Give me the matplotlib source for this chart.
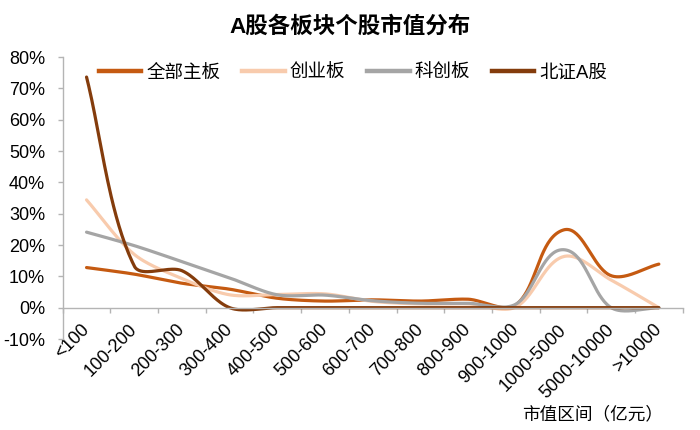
import numpy as np
import matplotlib
matplotlib.use("Agg")
import matplotlib.pyplot as plt
from matplotlib.lines import Line2D
from matplotlib.ticker import FuncFormatter, FixedLocator
from matplotlib.font_manager import FontProperties

plt.rcParams['font.family'] = ['Liberation Sans', 'Noto Sans CJK SC']
plt.rcParams['axes.unicode_minus'] = False

categories = ['<100', '100-200', '200-300', '300-400', '400-500', '500-600', '600-700',
              '700-800', '800-900', '900-1000', '1000-5000', '5000-10000', '>10000']
main_board = [12.8, 10.7, 7.8, 5.9, 3.0, 2.1, 2.5, 2.1, 2.7, 0.9, 24.8, 10.2, 13.9]
gem_board = [34.4, 17.0, 9.3, 4.1, 4.2, 4.4, 2.0, 1.2, 1.2, 0.2, 16.3, 8.8, 0.0]
star_board = [24.1, 19.8, 14.7, 9.5, 4.1, 4.0, 2.2, 1.4, 1.4, 1.1, 18.5, 0.0, 0.0]
bse_board = [73.6, 13.3, 11.8, 0.0, 0.0, 0.0, 0.0, 0.0, 0.0, 0.0, 0.0, 0.0, 0.0]
series_names = ['全部主板', '创业板', '科创板', '北证A股']
series_colors = ['#C55A11', '#F8CBAD', '#A5A5A5', '#843C0C']
y_ticks = [-10, 0, 10, 20, 30, 40, 50, 60, 70, 80]

W, H = 700, 430
fig = plt.figure(figsize=(7, 4.3), dpi=100)
ax = fig.add_axes([62.7 / W, 1 - 339 / H, (682.7 - 62.7) / W, (339 - 57) / H])
ax.set_xlim(-0.5, len(categories) - 0.5)
ax.set_ylim(-10, 80)


def smooth(ax, xs, ys, s=0.3, n=40):
    P = ax.transData.transform(np.column_stack([xs, ys]))
    m = len(P)
    U = []
    for i in range(m):
        if i == 0:
            d = P[1] - P[0]
        elif i == m - 1:
            d = P[-1] - P[-2]
        else:
            d = P[i + 1] - P[i - 1]
        nrm = np.hypot(*d)
        U.append(d / nrm if nrm > 0 else d)
    pts = [P[:1]]
    t = np.linspace(0, 1, n)[1:, None]
    for i in range(m - 1):
        L = np.hypot(*(P[i + 1] - P[i]))
        c1 = P[i] + U[i] * L * s
        c2 = P[i + 1] - U[i + 1] * L * s
        seg = ((1 - t) ** 3) * P[i] + 3 * ((1 - t) ** 2) * t * c1 \
            + 3 * (1 - t) * t ** 2 * c2 + t ** 3 * P[i + 1]
        pts.append(seg)
    pts = np.vstack(pts)
    return ax.transData.inverted().transform(pts)


x = np.arange(len(categories))
all_series = [main_board, gem_board, star_board, bse_board]
for vals, col, name in zip(all_series, series_colors, series_names):
    c = smooth(ax, x, vals)
    ax.plot(c[:, 0], c[:, 1], color=col, lw=2.3, solid_capstyle='round', label=name)

# axes styling
grey = '#B4B4B4'
for sp in ['top', 'right']:
    ax.spines[sp].set_visible(False)
ax.spines['left'].set_color(grey)
ax.spines['bottom'].set_color(grey)
ax.spines['bottom'].set_position(('data', 0))
ax.spines['left'].set_linewidth(1.0)
ax.spines['bottom'].set_linewidth(1.0)

ax.yaxis.set_major_locator(FixedLocator(y_ticks))
ax.yaxis.set_major_formatter(FuncFormatter(lambda v, p: f'{v:.0f}%'))
ax.tick_params(axis='y', length=3.6, width=1, color=grey, pad=9, labelsize=13)

ax.set_xticks(x)
ax.set_xticklabels(categories)
ax.set_xticks(np.arange(-0.5, len(categories), 1.0), minor=True)
ax.tick_params(axis='x', which='major', length=0, pad=14, labelsize=13)
ax.tick_params(axis='x', which='minor', length=3.6, width=1, color=grey, direction='out')
plt.setp(ax.get_xticklabels(), rotation=45, ha='right', va='center', rotation_mode='anchor')

# legend
prop = FontProperties(family=['Liberation Sans', 'Noto Sans CJK SC'], size=13.3)
handles = [Line2D([], [], color=c, lw=3.2) for c in series_colors]
fig.legend(handles, series_names, loc='center left', bbox_to_anchor=(99 / W, 1 - 73 / H),
           ncol=4, frameon=False, prop=prop, handlelength=2.3, handletextpad=0.25,
           columnspacing=1.2, borderpad=0, borderaxespad=0)

fig.text(350 / W, 1 - 27 / H, 'A股各板块个股市值分布', ha='center', va='center',
         fontsize=16.2, fontweight='bold', family=['Liberation Sans', 'Noto Sans CJK SC'])
fig.text(663 / W, 1 - 414 / H, '市值区间（亿元）', ha='right', va='center', fontsize=12.7,
         family=['Noto Sans CJK SC', 'Liberation Sans'])

fig.savefig('out.png', dpi=100)
